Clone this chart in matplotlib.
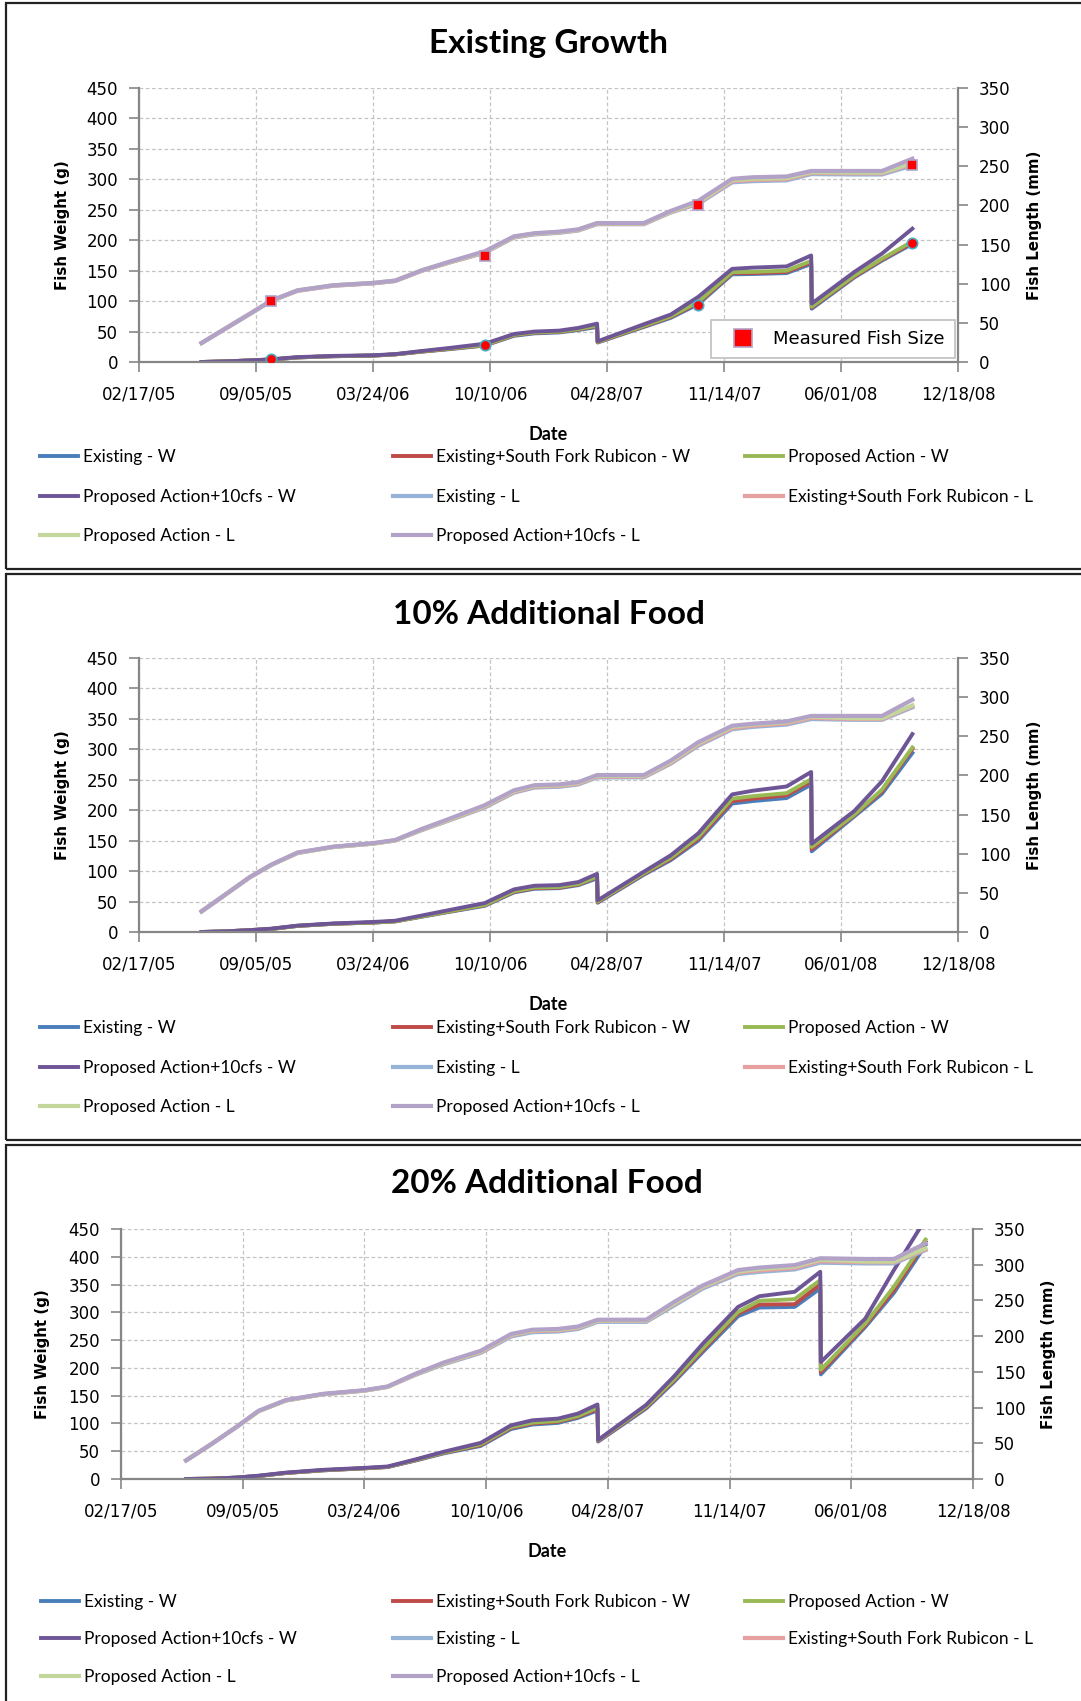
import numpy as np
import matplotlib.pyplot as plt
import matplotlib.dates as mdates
from datetime import datetime

# sample dates shared by all series
dates = ['2005-06-04', '2005-07-15', '2005-08-25', '2005-10-01', '2005-11-15', '2006-01-15',
         '2006-03-24', '2006-05-01', '2006-06-15', '2006-08-01', '2006-10-01', '2006-11-20',
         '2006-12-25', '2007-02-05', '2007-03-10', '2007-04-11', '2007-04-12', '2007-06-30',
         '2007-08-15', '2007-10-01', '2007-11-28', '2008-01-02', '2008-02-29', '2008-04-11',
         '2008-04-12', '2008-06-24', '2008-08-10', '2008-10-01']

# --- Existing Growth ---
eg_w_existing = [0, 1, 2.5, 4, 7.5, 9.5, 10.5, 12.5, 17, 21, 27, 43, 47, 48.5, 52.5, 57.5, 32, 57.5, 72.5, 95, 144, 144.5, 146, 161, 87.5, 139, 166.5, 194]
eg_w_sfr = [0, 1, 2.5, 4, 7.5, 9.5, 10.5, 12.5, 17, 21.5, 27.5, 44, 48, 49.5, 53.5, 59, 32.5, 58.5, 74, 97, 146, 146, 148, 163.5, 89.5, 140.5, 168, 196]
eg_w_proposed = [0, 1, 2.5, 4, 7.5, 9.5, 10.5, 12.5, 17.5, 22, 28, 44.5, 48.5, 50, 54, 60, 33, 59.5, 75, 99, 147.5, 148, 150, 166, 91, 142, 169.5, 198]
eg_w_10cfs = [0, 1, 2.5, 4.5, 8, 10, 11, 13, 18, 23, 30, 46, 50, 51.5, 56, 63, 34, 62, 78, 107, 153, 155, 157, 175, 96, 148, 178, 219]
eg_l_existing = [24.3, 42.8, 61.3, 78, 91, 97.5, 100.5, 103.5, 116.5, 127, 139.5, 159, 163, 165, 168, 176, 176, 176, 191, 202, 229.5, 231, 232, 240, 240, 239.5, 239.5, 251]
eg_l_sfr = [24.3, 42.8, 61.3, 78, 91, 97.5, 100.5, 103.5, 116.5, 127, 140, 159.5, 163.5, 165.5, 168.5, 176.5, 176.5, 176.5, 191.5, 203, 231, 232.5, 233.5, 241.5, 241.5, 241, 241, 253]
eg_l_proposed = [24.3, 42.8, 61.3, 78, 91.5, 98, 101, 104, 117, 127.5, 140.5, 160, 164, 166, 169, 177, 177, 177, 192, 204, 232.5, 234, 235, 242.5, 242.5, 242, 242, 254]
eg_l_10cfs = [24.3, 42.8, 61.3, 78.5, 91.5, 98, 101, 104, 117, 128, 141.5, 160.5, 164.5, 166.5, 169.5, 177.5, 177.5, 177.5, 193, 206, 234, 236, 237, 244, 244, 244, 244, 259.7]

measured_dates = ['2005-10-01', '2006-10-01', '2007-09-30', '2008-10-01']
measured_weight = [4.4, 27.4, 94, 195.5]
measured_length = [77.8, 136, 201, 252]

# --- 10% Additional Food ---
f10_w_existing = [0, 1, 3, 5, 10, 13.5, 15.5, 17.5, 25, 33, 43, 65, 71, 72, 77, 88, 48, 94, 118, 150, 211, 215, 220, 242, 132.5, 190, 227, 294]
f10_w_sfr = [0, 1, 3, 5, 10, 13.5, 15.5, 17.5, 25.5, 33.5, 44, 66, 72, 73, 78, 90, 49, 95.5, 120, 153, 215, 219, 224.5, 247.5, 136, 192, 231, 300.5]
f10_w_proposed = [0, 1, 3, 5, 10, 13.5, 15.5, 17.5, 25.5, 34, 44.5, 67, 73, 74, 79, 91, 50, 96.5, 122, 156, 219, 223, 228, 251, 139.6, 193, 233.8, 303]
f10_w_10cfs = [0, 1, 3, 5.5, 10.5, 14, 16.5, 18.5, 27, 36, 47.5, 70, 76, 77, 82, 95.5, 52, 99, 126, 162, 226, 232, 239, 262.8, 145, 199, 247.5, 325]
f10_l_existing = [26.4, 48, 69.8, 85.6, 101, 108.6, 112.9, 117, 130, 142.5, 159, 178, 184.5, 185.5, 188.5, 197.5, 197.5, 197.5, 215, 238, 259, 262, 265, 272, 272, 271, 271, 287]
f10_l_sfr = [26.4, 48, 69.8, 85.6, 101, 108.6, 112.9, 117, 130.5, 143, 160, 179, 185.5, 186.5, 189.5, 198.5, 198.5, 198.5, 216, 239.5, 260.5, 263.5, 266.5, 273.5, 273.5, 272, 272, 288.5]
f10_l_proposed = [26.4, 48, 69.8, 85.6, 101, 108.6, 112.9, 117, 131, 143.5, 161, 180, 186.5, 187.5, 190.5, 199.5, 199.5, 199.5, 217.5, 241, 262, 265, 268, 275, 275, 273, 273, 289.5]
f10_l_10cfs = [26.4, 48, 69.8, 86, 101.5, 109, 113.5, 117.5, 131.5, 144.5, 162, 181, 187.5, 188.5, 191.5, 200.5, 200.5, 200.5, 219, 242.5, 263.5, 266, 269, 276, 276, 276, 276, 296.7]

# --- 20% Additional Food ---
f20_w_existing = [0, 0.6, 2.4, 5.4, 10.8, 15.6, 19.2, 21.6, 33, 46, 59.5, 90, 98, 101, 110, 123.3, 67.4, 127, 175, 228.6, 293, 308.6, 309.8, 343, 188.3, 273.7, 335, 421]
f20_w_sfr = [0, 0.6, 2.4, 5.4, 10.8, 15.6, 19.2, 21.6, 33.5, 47, 61, 92, 100, 103, 112, 126, 68.5, 129, 177.5, 232, 297.8, 314, 314.6, 350.7, 192.5, 276.7, 340, 427]
f20_w_proposed = [0, 0.6, 2.4, 5.5, 11, 15.8, 19.4, 21.8, 34, 47.5, 62.5, 93.5, 101.5, 104.5, 113.5, 128.5, 69.5, 130.5, 179.5, 235, 300.8, 320.7, 323.7, 358, 196.7, 279.7, 346, 431]
f20_w_10cfs = [0, 0.6, 2.5, 6, 11.5, 16.5, 20, 22.5, 35, 49, 65, 96.7, 105.7, 108.7, 117.8, 134.2, 70.4, 133.5, 185, 243.6, 309.8, 329, 337, 373, 210.6, 288.8, 376, 468]
f20_l_existing = [26, 48.6, 72.4, 94.9, 110, 118.7, 123.8, 129, 145.5, 160.5, 176.5, 199.5, 205.5, 206.5, 210, 220, 220, 220, 243, 266.7, 287, 290, 293.4, 302.8, 302.8, 301.8, 301.8, 320.5]
f20_l_sfr = [26, 48.6, 72.4, 94.9, 110, 118.7, 123.8, 129, 146, 161.5, 177.5, 201, 207, 208, 211.5, 221.5, 221.5, 221.5, 245, 268.5, 289, 292, 295.5, 305, 305, 303.5, 303.5, 321.5]
f20_l_proposed = [26, 48.6, 72.4, 94.9, 110, 118.7, 123.8, 129, 146.5, 162, 178.5, 202, 208, 209, 212.5, 222, 222, 222, 246, 269.5, 290.5, 294, 297.5, 307, 307, 304.5, 304.5, 323]
f20_l_10cfs = [26, 48.6, 72.4, 95.5, 110.5, 119.2, 124.3, 129.5, 147, 163, 179.5, 203, 209, 210, 213.5, 223, 223, 223, 248, 271, 292.5, 296, 299.5, 309, 309, 308, 308, 330]

w_names = ['Existing - W', 'Existing+South Fork Rubicon - W', 'Proposed Action - W', 'Proposed Action+10cfs - W']
l_names = ['Existing - L', 'Existing+South Fork Rubicon - L', 'Proposed Action - L', 'Proposed Action+10cfs - L']
w_colors = ['#4A7EBB', '#BE4B48', '#98B954', '#6E5596']
l_colors = ['#95B3D7', '#E6A0A0', '#C3D69B', '#B3A2C7']

W, H = 1081, 1701
fig = plt.figure(figsize=(W / 100, H / 100), dpi=100)
fig.patch.set_facecolor('white')


def fx(x):
    return x / W


def fy(y):
    return 1 - y / H


t = mdates.date2num([datetime.strptime(d, '%Y-%m-%d') for d in dates])
tm = mdates.date2num([datetime.strptime(d, '%Y-%m-%d') for d in measured_dates])
x0 = mdates.date2num(datetime(2005, 2, 17))

panels = [
    dict(title='Existing Growth', box=(6, 3, 569), ax=(139, 88, 958, 362), title_y=43, date_y=434,
         rows=(457, 497, 536), cols=(40, 393, 745), ylab_x=(63, 1035),
         w=[eg_w_existing, eg_w_sfr, eg_w_proposed, eg_w_10cfs],
         l=[eg_l_existing, eg_l_sfr, eg_l_proposed, eg_l_10cfs], measured=True),
    dict(title='10% Additional Food', box=(6, 574, 1140), ax=(139, 658, 958, 932), title_y=615, date_y=1004,
         rows=(1028, 1068, 1107), cols=(40, 393, 745), ylab_x=(63, 1035),
         w=[f10_w_existing, f10_w_sfr, f10_w_proposed, f10_w_10cfs],
         l=[f10_l_existing, f10_l_sfr, f10_l_proposed, f10_l_10cfs], measured=False),
    dict(title='20% Additional Food', box=(6, 1145, 1720), ax=(121, 1229, 973, 1479), title_y=1183, date_y=1551,
         rows=(1602, 1639, 1677), cols=(41, 393, 745), ylab_x=(43, 1049),
         w=[f20_w_existing, f20_w_sfr, f20_w_proposed, f20_w_10cfs],
         l=[f20_l_existing, f20_l_sfr, f20_l_proposed, f20_l_10cfs], measured=False),
]

gray = '#868686'
for p in panels:
    bx, by0, by1 = p['box']
    fig.add_artist(plt.Rectangle((fx(bx), fy(by1)), 1.01 - fx(bx), fy(by0) - fy(by1),
                                 transform=fig.transFigure, fill=False, ec='#222222', lw=1.6))

    l, tp, r, b = p['ax']
    ax = fig.add_axes([fx(l), fy(b), fx(r) - fx(l), fy(tp) - fy(b)])
    ax2 = ax.twinx()

    handles = []
    for vals, c, n in zip(p['w'], w_colors, w_names):
        h, = ax.plot(t, vals, color=c, lw=2.8, label=n, solid_joinstyle='round')
        handles.append(h)
    for vals, c, n in zip(p['l'], l_colors, l_names):
        h, = ax2.plot(t, vals, color=c, lw=3.0, label=n, solid_joinstyle='round')
        handles.append(h)

    ax.set_xlim(x0, x0 + 1400)
    ax.set_ylim(0, 450)
    ax2.set_ylim(0, 350)
    ax.set_xticks(np.arange(x0, x0 + 1401, 200))
    ax.xaxis.set_major_formatter(mdates.DateFormatter('%m/%d/%y'))
    ax.set_yticks(np.arange(0, 451, 50))
    ax2.set_yticks(np.arange(0, 351, 50))

    ax.grid(True, color='#C4C4C4', ls=(0, (3, 2)), lw=0.9)
    ax.set_axisbelow(True)
    for s in ['top', 'right']:
        ax.spines[s].set_visible(False)
    for s in ['top', 'left', 'bottom']:
        ax2.spines[s].set_visible(False)
    for s in ['left', 'bottom']:
        ax.spines[s].set_color(gray)
        ax.spines[s].set_linewidth(1.6)
    ax2.spines['right'].set_color(gray)
    ax2.spines['right'].set_linewidth(1.6)

    ax.tick_params(axis='x', direction='out', length=7, width=1.2, color=gray, labelsize=12, pad=10)
    ax.tick_params(axis='y', direction='out', length=7, width=1.2, color=gray, labelsize=12, pad=8)
    ax2.tick_params(axis='y', direction='out', length=7, width=1.2, color=gray, labelsize=12, pad=8)

    ax.set_ylabel('Fish Weight (g)', fontsize=10.8, fontweight='bold')
    ax2.set_ylabel('Fish Length (mm)', fontsize=10.8, fontweight='bold')
    axw = r - l
    ax.yaxis.set_label_coords((p['ylab_x'][0] - l) / axw, 0.5)
    ax2.yaxis.set_label_coords((p['ylab_x'][1] - l) / axw, 0.5)
    ax.yaxis.label.set_va('center')
    ax2.yaxis.label.set_va('center')

    fig.text(fx((l + r) / 2), fy(p['title_y']), p['title'], ha='center', va='center',
             family='Lato', fontweight='bold', fontsize=24)
    fig.text(fx((l + r) / 2), fy(p['date_y']), 'Date', ha='center', va='center',
             family='Lato', fontweight='bold', fontsize=13)

    if p['measured']:
        ax.plot(tm, measured_weight, ls='none', marker='o', ms=7.5, mfc='#FF0000',
                mec='#4BACC6', mew=1.2, zorder=5)
        sq, = ax2.plot(tm, measured_length, ls='none', marker='s', ms=7.5, mfc='#FF0000',
                       mec='#B3A2C7', mew=1.2, zorder=5, label='Measured Fish Size')
        leg = ax2.legend(handles=[sq], loc='lower right', bbox_to_anchor=(0.996, 0.015),
                         borderaxespad=0, fancybox=False, edgecolor='#BFBFBF', framealpha=1,
                         borderpad=0.55, handlelength=2.4, handletextpad=0.5, markerscale=1.7,
                         prop={'size': 13})
        leg.get_frame().set_linewidth(1.2)

    for i, h in enumerate(handles):
        row, col = divmod(i, 3)
        fig.legend([h], [h.get_label()], loc='center left',
                   bbox_to_anchor=(fx(p['cols'][col]), fy(p['rows'][row])),
                   frameon=False, borderpad=0, borderaxespad=0, handlelength=2.2,
                   handletextpad=0.25, prop={'family': 'Lato', 'size': 12.5})

fig.savefig('out.png', dpi=100, facecolor='white')
